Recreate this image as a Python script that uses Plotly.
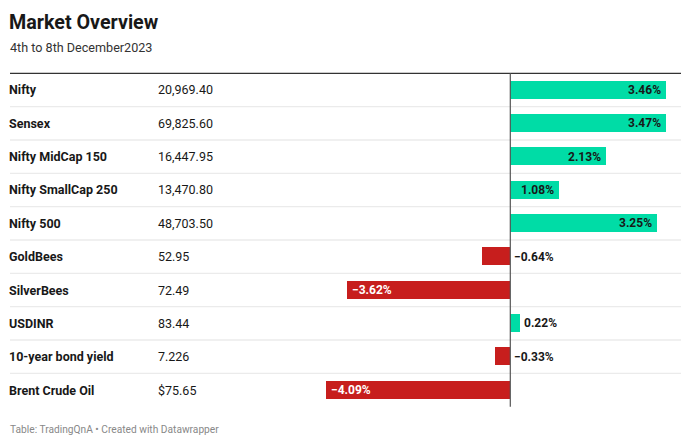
import plotly.graph_objects as go

names = ["Nifty", "Sensex", "Nifty MidCap 150", "Nifty SmallCap 250", "Nifty 500",
         "GoldBees", "SilverBees", "USDINR", "10-year bond yield", "Brent Crude Oil"]
prices = ["20,969.40", "69,825.60", "16,447.95", "13,470.80", "48,703.50",
          "52.95", "72.49", "83.44", "7.226", "$75.65"]
changes = [3.46, 3.47, 2.13, 1.08, 3.25, -0.64, -3.62, 0.22, -0.33, -4.09]

W, H = 690, 445
GREEN = "#00dca6"
RED = "#c71e1d"
FONT = "Roboto"

def px(x):
    return x / W

def py(y):
    return 1 - y / H

table_top, table_bot = 73.3, 406.7
xl, xr = 320, 681
zero_px, scale = 510.3, 45.0
x_range = [(xl - zero_px) / scale, (xr - zero_px) / scale]

fig = go.Figure()
fig.add_trace(go.Bar(
    y=list(range(len(names))), x=changes, orientation="h",
    marker=dict(color=[GREEN if v >= 0 else RED for v in changes], line=dict(width=0)),
    width=0.54, hoverinfo="skip", showlegend=False,
))

shapes = []
shapes.append(dict(type="line", xref="paper", yref="paper", x0=px(10), x1=px(681),
                   y0=py(table_top), y1=py(table_top), line=dict(color="#333333", width=1.3)))
for i in range(1, len(names)):
    shapes.append(dict(type="line", xref="paper", yref="y", x0=px(10), x1=px(681),
                       y0=i - 0.5, y1=i - 0.5, line=dict(color="#ebebeb", width=1.3)))
shapes.append(dict(type="line", xref="x", yref="paper", x0=0, x1=0,
                   y0=py(table_bot), y1=py(table_top), line=dict(color="#555555", width=1.2),
                   layer="above"))

ann = []
ann.append(dict(text="<b>Market Overview</b>", x=px(7), y=py(9), xref="paper", yref="paper",
                xanchor="left", yanchor="top", showarrow=False,
                font=dict(family=FONT, size=19.7, color="#181818")))
ann.append(dict(text="4th to 8th December2023", x=px(8), y=py(38), xref="paper", yref="paper",
                xanchor="left", yanchor="top", showarrow=False,
                font=dict(family=FONT, size=12.6, color="#333333")))
ann.append(dict(text="Table: TradingQnA • Created with Datawrapper", x=px(8), y=py(422),
                xref="paper", yref="paper", xanchor="left", yanchor="top", showarrow=False,
                font=dict(family=FONT, size=10.2, color="#888888")))

for i, (n, p, v) in enumerate(zip(names, prices, changes)):
    ann.append(dict(text="<b>%s</b>" % n, x=px(7), y=i, xref="paper", yref="y",
                    xanchor="left", yanchor="middle", showarrow=False,
                    font=dict(family=FONT, size=12.5, color="#181818")))
    ann.append(dict(text=p, x=px(156), y=i, xref="paper", yref="y",
                    xanchor="left", yanchor="middle", showarrow=False,
                    font=dict(family=FONT, size=12.5, color="#181818")))
    lab = "<b>%s%%</b>" % ("%.2f" % v).replace("-", "\u2212")
    if abs(v) >= 1:
        if v > 0:
            a = dict(x=v, xanchor="right", xshift=-3, color="#181818")
        else:
            a = dict(x=v, xanchor="left", xshift=3, color="#ffffff")
    else:
        if v > 0:
            a = dict(x=v, xanchor="left", xshift=2, color="#181818")
        else:
            a = dict(x=0, xanchor="left", xshift=2, color="#181818")
    ann.append(dict(text=lab, x=a["x"], y=i, xref="x", yref="y", xanchor=a["xanchor"],
                    xshift=a["xshift"], yanchor="middle", showarrow=False,
                    font=dict(family=FONT, size=12, color=a["color"])))

fig.update_layout(
    width=W, height=H, margin=dict(l=0, r=0, t=0, b=0),
    paper_bgcolor="white", plot_bgcolor="white",
    xaxis=dict(domain=[px(xl), px(xr)], range=x_range, visible=False, fixedrange=True),
    yaxis=dict(domain=[py(table_bot), py(table_top)], range=[len(names) - 0.5, -0.5],
               visible=False, fixedrange=True),
    shapes=shapes, annotations=ann, bargap=0,
)
fig.write_html("out.html", config={"displayModeBar": False},
               post_script="document.body.style.margin='0';document.body.style.overflow='hidden';")
